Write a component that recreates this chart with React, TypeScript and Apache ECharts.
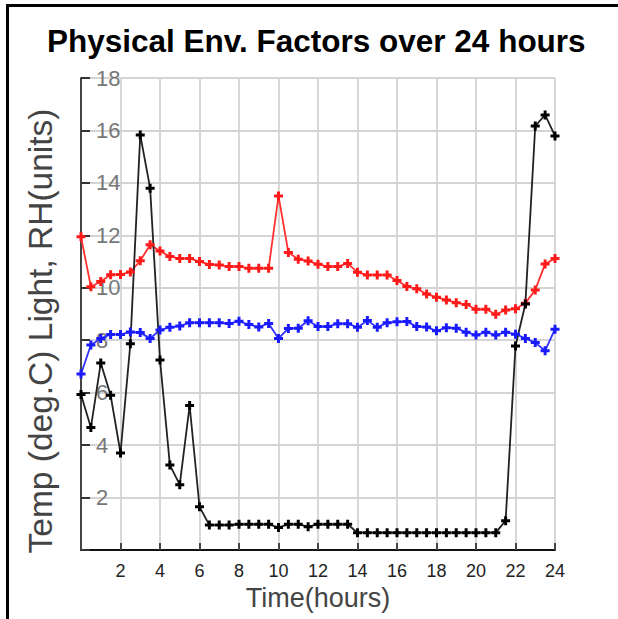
import React, { useEffect, useRef } from "react";
import * as echarts from "echarts";

const hours = [
  0, 0.5, 1, 1.5, 2, 2.5, 3, 3.5, 4, 4.5, 5, 5.5, 6, 6.5, 7, 7.5, 8, 8.5, 9, 9.5,
  10, 10.5, 11, 11.5, 12, 12.5, 13, 13.5, 14, 14.5, 15, 15.5, 16, 16.5, 17, 17.5,
  18, 18.5, 19, 19.5, 20, 20.5, 21, 21.5, 22, 22.5, 23, 23.5, 24,
];

const redSeries = [
  11.95, 10.04, 10.24, 10.5, 10.51, 10.6, 11.03, 11.64, 11.4, 11.19, 11.12, 11.12,
  11.0, 10.89, 10.87, 10.81, 10.81, 10.74, 10.74, 10.74, 13.5, 11.35, 11.09, 11.02,
  10.9, 10.81, 10.81, 10.93, 10.59, 10.49, 10.49, 10.49, 10.28, 10.05, 9.96, 9.76,
  9.64, 9.53, 9.43, 9.36, 9.18, 9.18, 8.99, 9.15, 9.2, 9.41, 9.92, 10.91, 11.12,
];

const blueSeries = [
  6.71, 7.82, 8.07, 8.22, 8.22, 8.31, 8.29, 8.07, 8.39, 8.49, 8.54, 8.67, 8.67,
  8.67, 8.67, 8.64, 8.72, 8.6, 8.5, 8.64, 8.07, 8.45, 8.46, 8.74, 8.52, 8.52, 8.63,
  8.63, 8.49, 8.75, 8.49, 8.67, 8.7, 8.71, 8.52, 8.5, 8.36, 8.48, 8.46, 8.3, 8.2,
  8.3, 8.2, 8.3, 8.23, 8.07, 7.91, 7.6, 8.42,
];

const blackSeries = [
  5.93, 4.67, 7.13, 5.9, 3.7, 7.87, 15.83, 13.8, 7.25, 3.24, 2.49, 5.51, 1.65, 0.95,
  0.95, 0.95, 0.98, 0.98, 0.98, 0.98, 0.86, 0.98, 0.98, 0.89, 0.98, 0.98, 0.98, 0.98,
  0.66, 0.66, 0.66, 0.66, 0.66, 0.66, 0.66, 0.66, 0.66, 0.66, 0.66, 0.66, 0.66, 0.66,
  0.66, 1.12, 7.78, 9.38, 16.17, 16.59, 15.79,
];

const xTicks = [0, 2, 4, 6, 8, 10, 12, 14, 16, 18, 20, 22, 24];
const yTicks = [0, 2, 4, 6, 8, 10, 12, 14, 16, 18];

const titleText = "Physical Env. Factors over 24 hours";
const xName = "Time(hours)";
const yName = "Temp (deg.C) Light, RH(units)";

const plus = "path://M3,0H6V3H9V6H6V9H3V6H0V3H3Z";

const pairs = (vals: number[]) => hours.map((h, i) => [h, vals[i]]);

export default function App() {
  const ref = useRef<HTMLDivElement>(null);
  useEffect(() => {
    document.body.style.margin = "0";
    if (!ref.current) return;
    const chart = echarts.init(ref.current, undefined, { renderer: "svg" });
    const font = "'Liberation Sans', Arial, sans-serif";
    chart.setOption({
      animation: false,
      backgroundColor: "#ffffff",
      title: {
        text: titleText,
        left: 42,
        top: 20,
        textStyle: { fontFamily: font, fontSize: 31.5, fontWeight: "bold", color: "#000" },
      },
      grid: { left: 81, top: 78, width: 474, height: 472, containLabel: false },
      xAxis: {
        type: "value",
        min: xTicks[0],
        max: xTicks[xTicks.length - 1],
        interval: 2,
        name: xName,
        nameLocation: "middle",
        nameGap: 30,
        nameTextStyle: { fontFamily: font, fontSize: 27, color: "#444" },
        axisLine: { show: true, onZero: false, lineStyle: { color: "#111", width: 2 } },
        axisTick: { show: true, inside: true, length: 7, lineStyle: { color: "#444", width: 2 } },
        axisLabel: {
          fontFamily: font,
          fontSize: 18,
          color: "#222",
          margin: 12,
          formatter: (v: number) => (v === 0 ? "" : String(v)),
        },
        splitLine: { show: true, lineStyle: { color: "#d4d4d4", width: 1.8 } },
      },
      yAxis: {
        type: "value",
        min: yTicks[0],
        max: yTicks[yTicks.length - 1],
        interval: 2,
        axisLine: { show: true, onZero: false, lineStyle: { color: "#444", width: 2 } },
        axisTick: { show: true, inside: true, length: 9, lineStyle: { color: "#333", width: 2 } },
        axisLabel: {
          inside: true,
          fontFamily: font,
          fontSize: 22,
          color: "#777",
          margin: 15,
          formatter: (v: number) => (v === 0 ? "" : String(v)),
        },
        splitLine: { show: true, lineStyle: { color: "#d4d4d4", width: 1.8 } },
      },
      graphic: [
        {
          type: "text",
          x: 40,
          y: 331,
          rotation: Math.PI / 2,
          style: {
            text: yName,
            fontFamily: font,
            fontSize: 33.5,
            fill: "#444",
            align: "center",
            verticalAlign: "middle",
          },
        },
        { type: "rect", shape: { x: 6, y: 4, width: 612, height: 3 }, style: { fill: "#000" } },
        { type: "rect", shape: { x: 6, y: 4, width: 3, height: 615 }, style: { fill: "#000" } },
      ],
      series: [
        {
          type: "line",
          data: pairs(redSeries),
          symbol: plus,
          symbolSize: 9,
          showAllSymbol: true,
          lineStyle: { color: "#ff3030", width: 1.8 },
          itemStyle: { color: "#ff1a1a" },
        },
        {
          type: "line",
          data: pairs(blueSeries),
          symbol: plus,
          symbolSize: 9,
          showAllSymbol: true,
          lineStyle: { color: "#3030ff", width: 1.8 },
          itemStyle: { color: "#1a1aff" },
        },
        {
          type: "line",
          data: pairs(blackSeries),
          symbol: plus,
          symbolSize: 9,
          showAllSymbol: true,
          lineStyle: { color: "#222", width: 1.8 },
          itemStyle: { color: "#000" },
        },
      ],
    });
    return () => chart.dispose();
  }, []);
  return <div ref={ref} style={{ width: 618, height: 619 }} />;
}
